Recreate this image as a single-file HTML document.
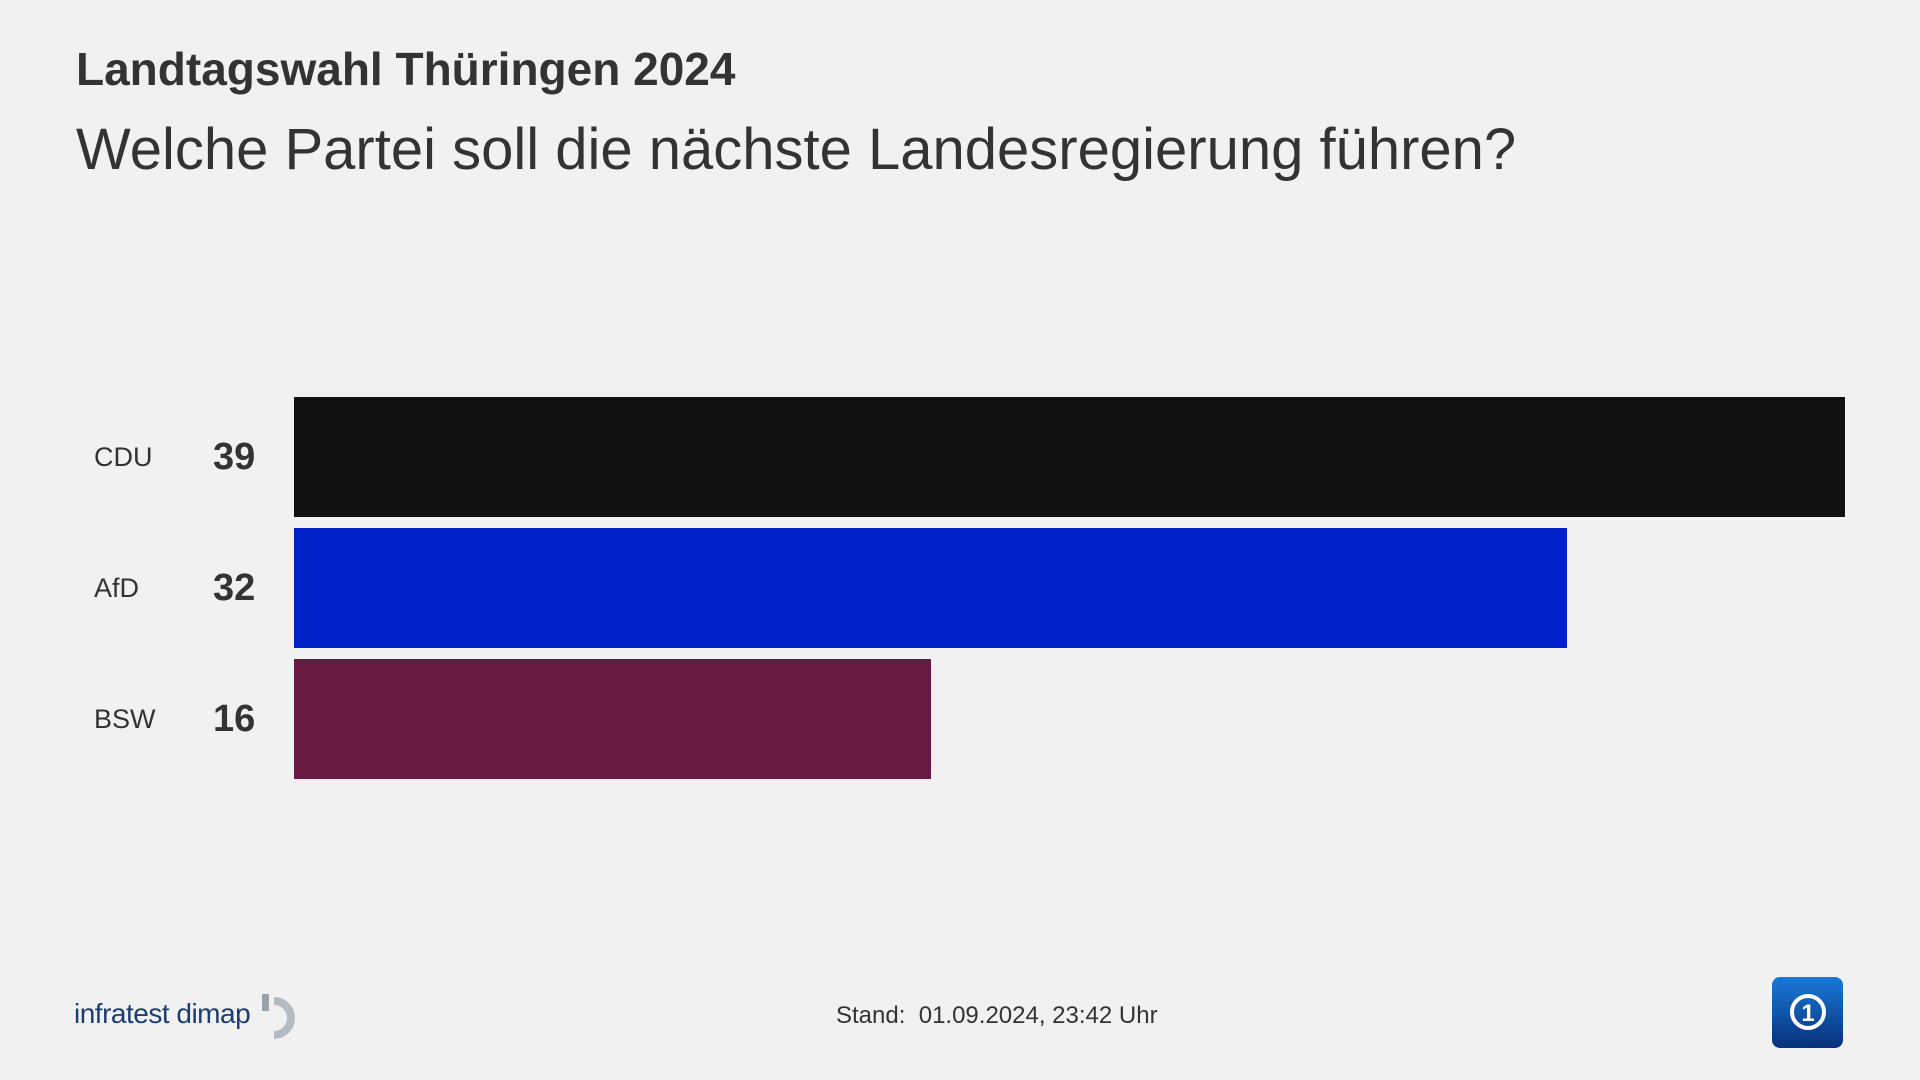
<!DOCTYPE html>
<html><head><meta charset="utf-8"><style>
html,body{margin:0;padding:0}
body{width:1920px;height:1080px;background:#f1f1f1;position:relative;overflow:hidden;font-family:"Liberation Sans",sans-serif;color:#333}
.a{position:absolute;white-space:nowrap}
.bar{position:absolute;left:294px;height:120px}
.lab{position:absolute;left:94px;font-size:27px;color:#333;line-height:120px}
.val{position:absolute;left:213px;font-size:38px;font-weight:bold;color:#333;line-height:120px}
</style></head><body>
<div class="a" style="left:76px;top:42px;font-size:46px;font-weight:bold;color:#333">Landtagswahl Thüringen 2024</div>
<div class="a" style="left:76px;top:116px;font-size:58px;color:#333">Welche Partei soll die nächste Landesregierung führen?</div>

<div class="bar" style="top:397px;width:1551px;background:#111"></div>
<div class="bar" style="top:528px;width:1273px;background:#0021c8"></div>
<div class="bar" style="top:659px;width:637px;background:#6a1b41"></div>
<div class="lab" style="top:397px">CDU</div><div class="val" style="top:397px">39</div>
<div class="lab" style="top:528px">AfD</div><div class="val" style="top:528px">32</div>
<div class="lab" style="top:659px">BSW</div><div class="val" style="top:659px">16</div>

<div class="a" style="left:74px;top:998px;font-size:28px;color:#1d3d6e;letter-spacing:-0.5px">infratest dimap</div>
<svg class="a" style="left:260px;top:992px" width="50" height="52" viewBox="0 0 50 52">
<rect x="2" y="2" width="7" height="17" fill="#9aa3ab"/>
<path d="M14 9 A17 17 0 1 1 14 43" fill="none" stroke="#b4bbc2" stroke-width="8"/>
</svg>
<div class="a" style="left:836px;top:1002px;font-size:24px;color:#333">Stand:&nbsp; 01.09.2024, 23:42 Uhr</div>
<svg class="a" style="left:1772px;top:977px" width="71" height="71" viewBox="0 0 71 71">
<defs><linearGradient id="g" x1="0" y1="0" x2="0" y2="1"><stop offset="0" stop-color="#1a7ad8"/><stop offset="1" stop-color="#06307a"/></linearGradient></defs>
<rect x="0" y="0" width="71" height="71" rx="8" fill="url(#g)"/>
<circle cx="36" cy="35" r="16" fill="none" stroke="#fff" stroke-width="4"/>
<text x="36" y="44" font-size="24" font-weight="bold" fill="#fff" text-anchor="middle" font-family="Liberation Sans,sans-serif">1</text>
</svg>
</body></html>
